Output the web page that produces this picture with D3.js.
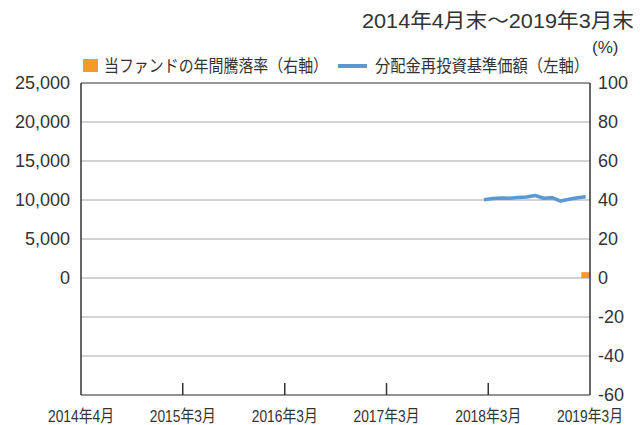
<!DOCTYPE html>
<html>
<head>
<meta charset="utf-8">
<script src="https://cdn.jsdelivr.net/npm/d3@7"></script>
<style>
  body { margin: 0; background: #fff; }
  text { fill: #333; font-family: "Liberation Sans", Arial, "Noto Sans CJK JP", sans-serif; }
</style>
</head>
<body>
<script>
// data
var periodLabel = "2014年4月末～2019年3月末";
var xTickMonths = ["2014-04", "2015-03", "2016-03", "2017-03", "2018-03", "2019-03"];
var xTickLabels = ["2014年4月", "2015年3月", "2016年3月", "2017年3月", "2018年3月", "2019年3月"];
var navMonths = ["2018-03", "2018-04", "2018-05", "2018-06", "2018-07", "2018-08", "2018-09",
                 "2018-10", "2018-11", "2018-12", "2019-01", "2019-02", "2019-03"];
var navValues = [10030, 10190, 10250, 10230, 10320, 10380, 10580, 10220, 10290, 9870, 10100, 10280, 10410];
var returnMonths = ["2019-03"];
var returnValues = [3.0];
var leftTicks = [0, 5000, 10000, 15000, 20000, 25000];
var rightTicks = [100, 80, 60, 40, 20, 0, -20, -40, -60];
var legendLabels = ["当ファンドの年間騰落率（右軸）", "分配金再投資基準価額（左軸）"];

var margin = { top: 83, right: 50, bottom: 30, left: 81 },
  width = 590 - margin.left,
  height = 395 - margin.top

var svg = d3.select("body").append("svg")
  .attr("width", 640)
  .attr("height", 425)

var g = svg.append("g")
  .attr("transform", "translate(" + margin.left + "," + margin.top + ")")

var parseMonth = d3.timeParse("%Y-%m");

// one band per month, ticks sit on the month boundaries
var x = d3.scaleTime()
  .domain([parseMonth("2014-04"), parseMonth("2019-04")])
  .range([0, width]);

function monthStart(m) { return x(parseMonth(m)) }
function monthEnd(m) { return x(d3.timeMonth.offset(parseMonth(m), 1)) }
function monthMid(m) { return (monthStart(m) + monthEnd(m)) / 2 }

var yRight = d3.scaleLinear().domain([-60, 100]).range([height, 0]);
var yLeft = d3.scaleLinear().domain([-15000, 25000]).range([height, 0]);

// gridlines
g.append("g").selectAll("line")
  .data(rightTicks.filter(function(d) { return d > -60 && d < 100 }))
  .enter().append("line")
  .attr("x1", 0).attr("x2", width)
  .attr("y1", function(d) { return yRight(d) })
  .attr("y2", function(d) { return yRight(d) })
  .attr("stroke", "#a6a6a6")
  .attr("stroke-width", 1)

// bars (right axis)
g.append("g").selectAll("rect")
  .data(returnMonths)
  .enter().append("rect")
  .attr("x", function(d) { return monthStart(d) })
  .attr("width", function(d) { return monthEnd(d) - monthStart(d) })
  .attr("y", function(d, i) { return yRight(Math.max(0, returnValues[i])) })
  .attr("height", function(d, i) { return Math.abs(yRight(returnValues[i]) - yRight(0)) })
  .attr("fill", "#f39a2b")

// nav line (left axis)
var line = d3.line()
  .x(function(d) { return monthMid(d) })
  .y(function(d, i) { return yLeft(navValues[i]) })

g.append("path")
  .datum(navMonths)
  .attr("d", line)
  .attr("fill", "none")
  .attr("stroke", "#5b97d3")
  .attr("stroke-width", 3.5)
  .attr("stroke-linejoin", "round")

// frame
g.append("line").attr("x1", 0).attr("x2", width).attr("y1", height).attr("y2", height)
  .attr("stroke", "#6e6e6e").attr("stroke-width", 1.5)
g.append("line").attr("x1", 0).attr("x2", width).attr("y1", 0).attr("y2", 0)
  .attr("stroke", "#333").attr("stroke-width", 1)
g.append("line").attr("x1", 0).attr("x2", 0).attr("y1", 0).attr("y2", height)
  .attr("stroke", "#333").attr("stroke-width", 1.5)
g.append("line").attr("x1", width).attr("x2", width).attr("y1", 0).attr("y2", height)
  .attr("stroke", "#333").attr("stroke-width", 1.5)

// x ticks: first at the start of its month, the rest at the end of theirs
function tickX(m, i) { return i === 0 ? monthStart(m) : monthEnd(m) }

g.append("g").selectAll("line")
  .data(xTickMonths.slice(1, -1))
  .enter().append("line")
  .attr("x1", function(d) { return monthEnd(d) })
  .attr("x2", function(d) { return monthEnd(d) })
  .attr("y1", height - 12).attr("y2", height)
  .attr("stroke", "#333").attr("stroke-width", 1.5)

g.append("g").selectAll("text")
  .data(xTickMonths)
  .enter().append("text")
  .attr("x", function(d, i) { return tickX(d, i) })
  .attr("y", height + 27)
  .attr("text-anchor", "middle")
  .attr("textLength", 66)
  .attr("lengthAdjust", "spacingAndGlyphs")
  .style("font-size", "17px")
  .text(function(d, i) { return xTickLabels[i] })

// left axis labels
g.append("g").selectAll("text")
  .data(leftTicks)
  .enter().append("text")
  .attr("x", -11)
  .attr("y", function(d) { return yLeft(d) })
  .attr("dy", "0.36em")
  .attr("text-anchor", "end")
  .style("font-size", "18px")
  .text(function(d) { return d3.format(",")(d) })

// right axis labels
g.append("g").selectAll("text")
  .data(rightTicks)
  .enter().append("text")
  .attr("x", width + 8)
  .attr("y", function(d) { return yRight(d) })
  .attr("dy", "0.36em")
  .attr("text-anchor", "start")
  .style("font-size", "18px")
  .text(function(d) { return d })

svg.append("text")
  .attr("x", 592).attr("y", 53)
  .style("font-size", "17px")
  .text("(%)")

// period title
svg.append("text")
  .attr("x", 362).attr("y", 28)
  .attr("textLength", 272)
  .attr("lengthAdjust", "spacingAndGlyphs")
  .style("font-size", "20px")
  .text(periodLabel)

// legend
svg.append("rect")
  .attr("x", 83).attr("y", 59).attr("width", 15).attr("height", 13)
  .attr("fill", "#f39a2b")
svg.append("text")
  .attr("x", 104).attr("y", 72)
  .attr("textLength", 224)
  .attr("lengthAdjust", "spacingAndGlyphs")
  .style("font-size", "17px")
  .text(legendLabels[0])
svg.append("line")
  .attr("x1", 338).attr("x2", 367).attr("y1", 66).attr("y2", 66)
  .attr("stroke", "#5b97d3").attr("stroke-width", 4)
svg.append("text")
  .attr("x", 375).attr("y", 72)
  .attr("textLength", 214)
  .attr("lengthAdjust", "spacingAndGlyphs")
  .style("font-size", "17px")
  .text(legendLabels[1])
</script>
</body>
</html>
